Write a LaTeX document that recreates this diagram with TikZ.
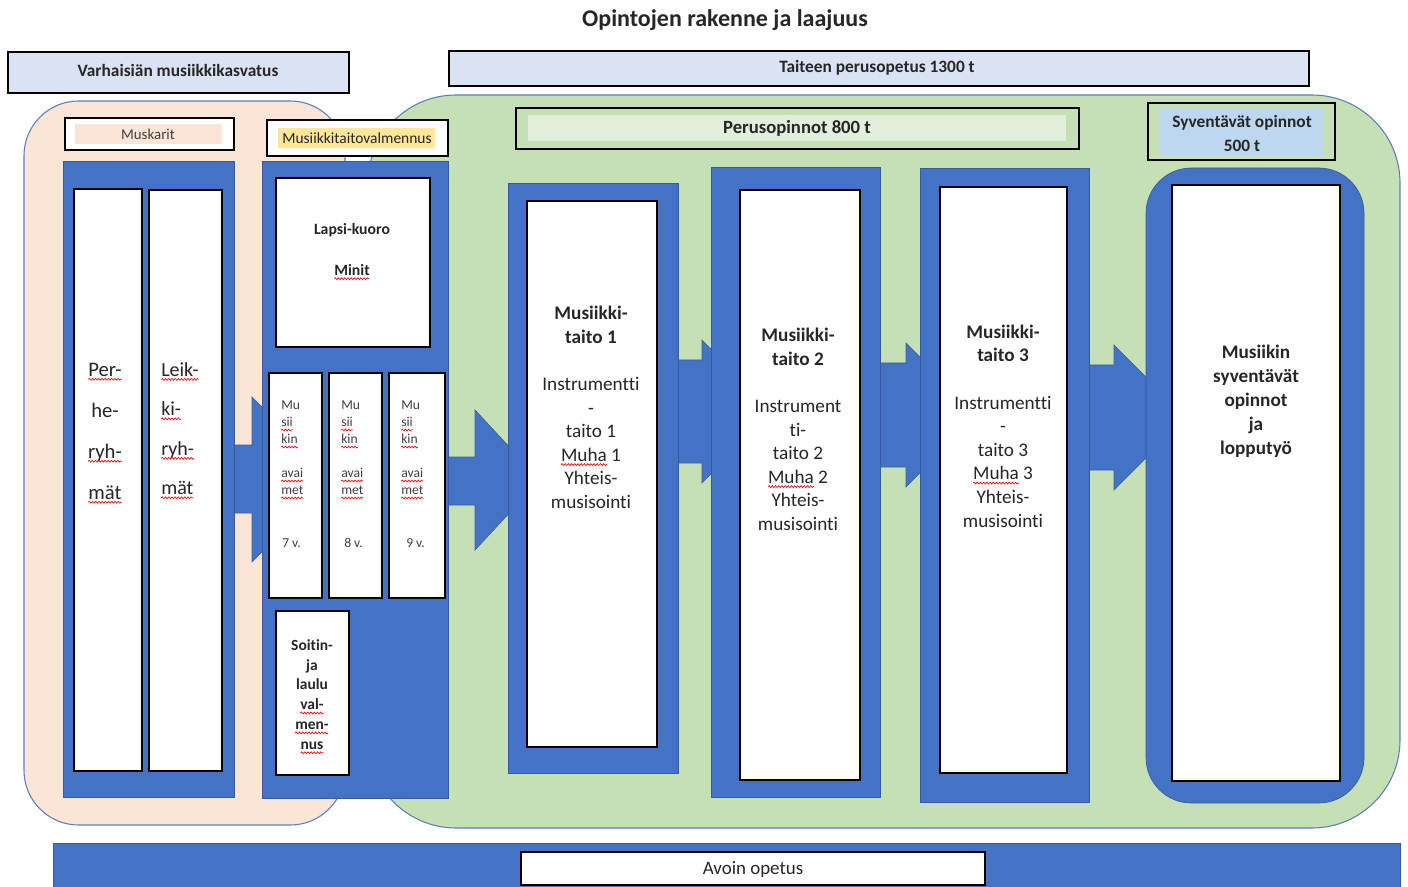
\documentclass[tikz,border=0pt]{standalone}
\usepackage{fontspec}
\setmainfont[Ligatures=NoCommon]{Carlito}
\usetikzlibrary{decorations.pathmorphing}
\newsavebox\splbox
\newcommand\spl[1]{\sbox\splbox{#1}\usebox\splbox\tikz[overlay,baseline=0pt,x=1pt,y=1pt]\draw[red,line width=0.5pt,decorate,decoration={snake,amplitude=0.7pt,segment length=2.4pt}] (-\wd\splbox,-2.4pt) -- (0pt,-2.4pt);}
\definecolor{cblue}{HTML}{4472C4}
\definecolor{cgreen}{HTML}{C5E0B4}
\definecolor{cpeach}{HTML}{FBE5D6}
\definecolor{chead}{HTML}{DAE3F3}
\definecolor{cedge}{HTML}{5A7EBF}
\definecolor{cpale}{HTML}{E2EFDA}
\definecolor{cyel}{HTML}{FFE699}
\definecolor{csky}{HTML}{BDD7EE}
\definecolor{ctext}{HTML}{262626}
\definecolor{cgrey}{HTML}{404040}
\tikzset{
  col/.style={fill=cblue, draw=cblue!80!black, line width=0.5pt},
  wbox/.style={fill=white, draw=black, line width=1.1pt},
  hdr/.style={fill=chead, draw=black, line width=1.1pt},
  arr/.style={fill=cblue, draw=cblue!85!black, line width=0.5pt},
  region/.style={draw=cedge, line width=0.8pt},
  txt/.style={inner sep=0pt, align=center, text=ctext},
  coltxt/.style={txt, font=\fontsize{14.4}{17.7}\selectfont},
  smalltxt/.style={inner sep=0pt, align=left, text=cgrey, font=\fontsize{10.2}{12.75}\selectfont},
}
\begin{document}
\begin{tikzpicture}[x=0.75pt,y=-0.75pt]
\useasboundingbox (0,0) rectangle (1408,887);
% title
\node[txt, font=\fontsize{18}{20}\selectfont\bfseries] (title) at (725,20) {Opintojen rakenne ja laajuus};
% regions
\path[region, fill=cpeach, rounded corners=41pt] (24,101) rectangle (345,825);
\path[region, fill=cgreen, rounded corners=66pt] (368,95) rectangle (1400,828);
% headers
\path[hdr] (8,52) rectangle (349,93);
\node[txt, font=\fontsize{13}{14}\selectfont\bfseries] (varh) at (178,70) {Varhaisiän musiikkikasvatus};
\path[hdr] (449,51) rectangle (1309,86);
\node[txt, font=\fontsize{13}{14}\selectfont\bfseries] (tpo) at (877,68) {Taiteen perusopetus 1300 t};
% Muskarit label
\path[fill=white, draw=black, line width=1.1pt] (65,118) rectangle (234,150);
\path[fill=cpeach] (75,124) rectangle (222,144);
\node[txt, text=cgrey, font=\fontsize{11.2}{12}\selectfont] (musk) at (148,134) {Muskarit};
% Musiikkitaitovalmennus label
\path[fill=white, draw=black, line width=1.1pt] (267,120) rectangle (448,156);
\path[fill=cyel] (278,128) rectangle (435,148);
\node[txt, font=\fontsize{11.6}{12}\selectfont] (mtv) at (357,138) {Musiikkitaitovalmennus};
% Perusopinnot label
\path[fill=cgreen, draw=black, line width=1.1pt] (516,108) rectangle (1079,149);
\path[fill=cpale] (528,115) rectangle (1066,141);
\node[txt, font=\fontsize{14}{15}\selectfont\bfseries] (perus) at (797,128) {Perusopinnot 800 t};
% Syventavat label
\path[fill=cgreen, draw=black, line width=1.1pt] (1148,103) rectangle (1335,160);
\path[fill=csky] (1160,108) rectangle (1323,156);
\node[txt, font=\fontsize{13}{18}\selectfont\bfseries] (syv) at (1242,133) {Syventävät opinnot\\500 t};
% arrows
\path[arr] (225,445) -- (252,445) -- (252,397) -- (334,479.5) -- (252,562) -- (252,513) -- (225,513) -- cycle;
\path[arr] (440,457) -- (475,457) -- (475,410) -- (540,480) -- (475,550) -- (475,505) -- (440,505) -- cycle;
\path[arr] (670,360) -- (702,360) -- (702,340) -- (773,411.5) -- (702,483) -- (702,463) -- (670,463) -- cycle;
\path[arr] (870,363) -- (906,363) -- (906,343) -- (978,415) -- (906,487) -- (906,467) -- (870,467) -- cycle;
\path[arr] (1080,365) -- (1114,365) -- (1114,345) -- (1186,417.5) -- (1114,490) -- (1114,470) -- (1080,470) -- cycle;
% left column
\path[col] (63,161) rectangle (234,797);
\path[wbox] (74,189) rectangle (142,771);
\path[wbox] (149,190) rectangle (222,771);
\node[txt, font=\fontsize{15.5}{30.75}\selectfont] (perhe) at (105,431) {\spl{Per-}\\he-\\\spl{ryh-}\\\spl{mät}};
\node[txt, align=left, anchor=west, font=\fontsize{15}{29.6}\selectfont] (leikki) at (161,428.5) {\spl{Leik-}\\\spl{ki-}\\\spl{ryh-}\\\spl{mät}};
% middle column
\path[col] (262,161) rectangle (448,798);
\path[wbox] (276,178) rectangle (430,347);
\node[txt, font=\fontsize{11.8}{30.75}\selectfont\bfseries] (lapsi) at (352,249.5) {Lapsi-kuoro\\\spl{Minit}};
\path[wbox] (269,373) rectangle (322,598);
\path[wbox] (329,373) rectangle (382,598);
\path[wbox] (389,373) rectangle (445,598);
\node[smalltxt, anchor=west] (ma1) at (281,448) {Mu\\\spl{sii}\\\spl{kin}\\[12.75pt]\spl{avai}\\\spl{met}};
\node[smalltxt, anchor=west] (ma2) at (341,448) {Mu\\\spl{sii}\\\spl{kin}\\[12.75pt]\spl{avai}\\\spl{met}};
\node[smalltxt, anchor=west] (ma3) at (401,448) {Mu\\\spl{sii}\\\spl{kin}\\[12.75pt]\spl{avai}\\\spl{met}};
\node[smalltxt, anchor=west] (v7) at (282,543) {7 v.};
\node[smalltxt, anchor=west] (v8) at (344,543) {8 v.};
\node[smalltxt, anchor=west] (v9) at (406,543) {9 v.};
\path[wbox] (276,611) rectangle (349,775);
\node[txt, font=\fontsize{11.6}{14.9}\selectfont\bfseries] (soitin) at (312,694.5) {Soitin-\\ja\\laulu\\\spl{val-}\\\spl{men-}\\\spl{nus}};
% column 1
\path[col] (508,183) rectangle (678,773);
\path[wbox] (527,201) rectangle (657,747);
\node[coltxt] (mt1) at (591,407.5) {\textbf{Musiikki-}\\\textbf{taito 1}\\[17.7pt]Instrumentti\\-\\taito 1\\\spl{Muha} 1\\Yhteis-\\musisointi};
% column 2
\path[col] (711,167) rectangle (880,797);
\path[wbox] (740,190) rectangle (860,780);
\node[coltxt] (mt2) at (798,429.5) {\textbf{Musiikki-}\\\textbf{taito 2}\\[17.7pt]Instrument\\ti-\\taito 2\\\spl{Muha} 2\\Yhteis-\\musisointi};
% column 3
\path[col] (920,168) rectangle (1089,802);
\path[wbox] (940,187) rectangle (1067,773);
\node[coltxt] (mt3) at (1003,426) {\textbf{Musiikki-}\\\textbf{taito 3}\\[17.7pt]Instrumentti\\-\\taito 3\\\spl{Muha} 3\\Yhteis-\\musisointi};
% column 4
\path[col, rounded corners=34pt] (1146,168) rectangle (1364,803);
\path[wbox] (1172,185) rectangle (1340,781);
\node[coltxt, font=\fontsize{14.4}{18}\selectfont\bfseries] (syvop) at (1256,401) {Musiikin\\syventävät\\opinnot\\ja\\lopputyö};
% bottom bar
\path[col] (53,843) rectangle (1400,892);
\path[wbox] (521,852) rectangle (985,885);
\node[txt, font=\fontsize{14.2}{15}\selectfont] (avoin) at (753,870) {Avoin opetus};
\end{tikzpicture}
\end{document}
